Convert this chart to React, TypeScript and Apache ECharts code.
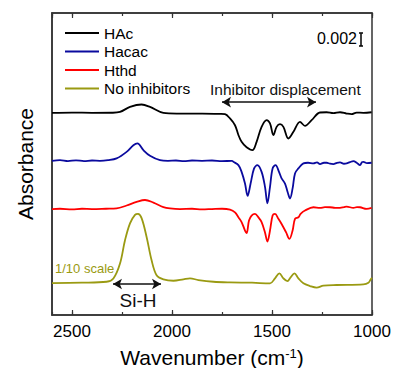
import React, { useEffect, useRef } from "react";
import * as echarts from "echarts";

// Wavenumber ticks (cm^-1)
const X_MIN = 1000;
const X_MAX = 2600;
const X_MAJOR = 500;
const X_MINOR = 250;
const Y_MAX = 46.5; // plot span in mAbs units (0.001 absorbance)

// Vertical offsets of the stacked traces (mAbs)
const offsets = { hac: 31.12, hacac: 23.74, hthd: 16.31, none: 4.92 };

// [wavenumber, absorbance change in mAbs relative to baseline]
const hacData: [number, number][] = [
  [2600, 0], [2500, 0.05], [2400, 0], [2300, 0.02], [2260, 0.15], [2210, 0.92], [2152, 1.29],
  [2110, 0.92], [2043, 0], [1977, -0.1], [1850, -0.1], [1760, -0.15], [1735, -0.2],
  [1710, -0.86], [1685, -1.9], [1668, -3.4], [1652, -4.46], [1627, -5.3], [1598, -5.74],
  [1577, -4.46], [1552, -2.15], [1527, -1.12], [1510, -1.63], [1493, -3.43], [1477, -2.15],
  [1460, -1.74], [1443, -2.15], [1418, -3.94], [1393, -2.92], [1360, -1.38], [1335, -2.0],
  [1302, -1.12], [1260, 0.06], [1227, 0.1], [1193, -0.05], [1160, 0.1], [1127, -0.1],
  [1102, -0.2], [1077, 0.05], [1043, 0], [1002, 0.1],
];

const hacacData: [number, number][] = [
  [2600, 0], [2560, 0.1], [2520, -0.05], [2480, 0.08], [2440, -0.05], [2400, 0.05], [2360, 0],
  [2320, 0.1], [2277, 0.37], [2227, 1.38], [2193, 2.4], [2173, 2.68], [2143, 1.65],
  [2110, 0.77], [2060, 0.1], [2020, 0], [1980, 0.05], [1940, -0.05], [1900, 0.05], [1850, 0],
  [1800, 0.05], [1750, -0.05], [1700, 0], [1693, -0.15], [1668, -0.66], [1652, -1.7],
  [1635, -3.5], [1622, -5.4], [1607, -3.5], [1590, -1.2], [1573, -0.66], [1552, -1.7],
  [1535, -4.0], [1523, -6.55], [1510, -4.0], [1497, -1.17], [1482, -0.66], [1465, -1.7],
  [1452, -2.7], [1435, -3.5], [1422, -4.8], [1410, -5.8], [1397, -4.25], [1385, -1.94],
  [1368, -1.17], [1343, -0.4], [1320, -0.3], [1293, -0.4], [1275, -0.25], [1260, -0.5],
  [1240, -0.3], [1227, -0.3], [1210, -0.45], [1193, -0.5], [1175, -0.3], [1160, -0.25],
  [1140, -0.45], [1127, -0.4], [1110, -0.2], [1093, -0.05], [1075, -0.35], [1060, -0.66],
  [1050, -0.2], [1043, -0.15], [1025, -0.35], [1002, -0.3],
];

const hthdData: [number, number][] = [
  [2600, 0], [2560, 0.05], [2500, -0.05], [2450, 0.05], [2400, 0], [2330, 0.05], [2277, 0.1],
  [2227, 0.55], [2177, 1.1], [2135, 1.4], [2093, 1.0], [2043, 0.3], [2010, 0.1], [1960, 0],
  [1900, 0.05], [1850, -0.05], [1800, 0], [1750, 0.05], [1710, -0.08], [1685, -0.5],
  [1668, -1.26], [1652, -2.0], [1635, -3.3], [1627, -3.7], [1615, -1.77], [1602, -1.0],
  [1585, -0.74], [1568, -1.26], [1552, -2.0], [1535, -3.6], [1523, -5.0], [1510, -3.3],
  [1497, -1.0], [1485, -0.74], [1468, -1.5], [1452, -2.3], [1430, -3.56], [1413, -4.6],
  [1397, -3.3], [1385, -1.5], [1368, -1.26], [1357, -0.74], [1335, -0.23], [1293, 0.28],
  [1260, 0.18], [1235, 0.3], [1210, 0.28], [1185, 0.2], [1160, 0.18], [1140, 0.3],
  [1127, 0.38], [1093, 0.18], [1075, 0.3], [1060, 0.28], [1027, 0.03], [1002, 0.18],
];

// "No inhibitors" trace, shown at 1/10 scale
const noneData: [number, number][] = [
  [2600, 0], [2450, 0.05], [2327, 0.2], [2293, 0.7], [2260, 3.0], [2235, 6.6], [2210, 9.2],
  [2185, 10.5], [2170, 10.65], [2152, 10.0], [2127, 7.1], [2102, 3.5], [2077, 1.2],
  [2043, 0.57], [1993, 0.35], [1943, 0.57], [1910, 0.72], [1868, 0.46], [1793, 0.2],
  [1710, 0.1], [1600, 0.05], [1510, -0.05], [1485, 0.72], [1463, 1.5], [1443, 0.72],
  [1423, 0.3], [1407, 0.87], [1388, 1.5], [1368, 0.72], [1343, -0.05], [1310, -0.46],
  [1277, -0.7], [1243, -0.4], [1177, -0.3], [1043, -0.2], [1018, 0.05], [1006, 0.57],
  [1000, 0.8],
];

const seriesNames = ["HAc", "Hacac", "Hthd", "No inhibitors"];
const seriesColors = ["#000000", "#0a0a9e", "#ff0000", "#9a9a12"];

// Annotation spans (cm^-1) and scale bar (mAbs)
const inhibitorSpan = [1750, 1280];
const inhibitorArrowY = 32.77;
const siHSpan = [2295, 2055];
const siHArrowY = 4.77;
const scaleBarX = 1055;
const scaleBarBottom = 41.4;
const scaleBar = 2; // 0.002 absorbance

const FONT = '"Liberation Sans", Arial, sans-serif';

function shift(d: [number, number][], off: number) {
  return d.map(([x, y]) => [x, +(y + off).toFixed(3)]);
}

export default function App() {
  const ref = useRef<HTMLDivElement>(null);
  useEffect(() => {
    if (!ref.current) return;
    const chart = echarts.init(ref.current, undefined, { renderer: "svg" });
    const datasets = [
      shift(hacData, offsets.hac),
      shift(hacacData, offsets.hacac),
      shift(hthdData, offsets.hthd),
      shift(noneData, offsets.none),
    ];
    const baseX = {
      type: "value",
      min: X_MIN,
      max: X_MAX,
      inverse: true,
      splitLine: { show: false },
    };
    const arrowLine = { color: "#111", width: 1.5, type: "solid" };
    const series: any[] = datasets.map((d, i) => ({
      name: seriesNames[i],
      type: "line",
      data: d,
      showSymbol: false,
      smooth: 0.35,
      lineStyle: { color: seriesColors[i], width: 1.8 },
      itemStyle: { color: seriesColors[i] },
      silent: true,
    }));
    series[0].markLine = {
      silent: true,
      symbol: ["arrow", "arrow"],
      symbolSize: [8, 9],
      label: { show: false },
      lineStyle: arrowLine,
      data: [
        [{ coord: [inhibitorSpan[0], inhibitorArrowY] }, { coord: [inhibitorSpan[1], inhibitorArrowY] }],
        [{ coord: [siHSpan[0], siHArrowY] }, { coord: [siHSpan[1], siHArrowY] }],
      ],
    };
    series.push({
      type: "line",
      data: [],
      silent: true,
      markLine: {
        silent: true,
        symbol: ["none", "none"],
        label: { show: false },
        lineStyle: { color: "#000", width: 1.5, type: "solid" },
        data: [
          [{ coord: [scaleBarX, scaleBarBottom] }, { coord: [scaleBarX, scaleBarBottom + scaleBar] }],
          [{ coord: [scaleBarX + 10, scaleBarBottom] }, { coord: [scaleBarX - 10, scaleBarBottom] }],
          [{ coord: [scaleBarX + 10, scaleBarBottom + scaleBar] }, { coord: [scaleBarX - 10, scaleBarBottom + scaleBar] }],
        ],
      },
    });

    chart.setOption({
      animation: false,
      grid: {
        left: 52, right: 21, top: 13, bottom: 53,
        outerBoundsMode: "none",
        containLabel: false,
        show: true, borderColor: "#333", borderWidth: 1.5, backgroundColor: "transparent",
      },
      legend: {
        data: seriesNames,
        orient: "vertical",
        left: 60,
        top: 20,
        icon: "rect",
        itemWidth: 34,
        itemHeight: 2,
        itemGap: 2.5,
        textStyle: { fontFamily: FONT, fontSize: 15.5, color: "#000", padding: [0, 0, 0, 0] },
      },
      xAxis: [
        {
          ...baseX,
          position: "bottom",
          interval: X_MAJOR,
          axisLine: { show: true, lineStyle: { color: "#333", width: 1.5 } },
          axisTick: { show: true, inside: true, length: 5, lineStyle: { color: "#333", width: 1.2 } },
          axisLabel: {
            show: true, showMaxLabel: false, margin: 8,
            fontFamily: FONT, fontSize: 17, color: "#000",
            formatter: (v: number) => String(v),
          },
          name: "{a|Wavenumber (cm}{s|-1}{a|)}",
          nameLocation: "middle",
          nameGap: 32,
          nameTextStyle: {
            rich: {
              a: { fontFamily: FONT, fontSize: 21, color: "#000" },
              s: { fontFamily: FONT, fontSize: 13, color: "#000", verticalAlign: "top" },
            },
          },
        },
        {
          ...baseX,
          position: "bottom",
          interval: X_MINOR,
          axisLine: { show: false },
          axisTick: { show: true, inside: true, length: 3, lineStyle: { color: "#333", width: 1.2 } },
          axisLabel: { show: false },
        },
        {
          ...baseX,
          position: "top",
          interval: X_MAJOR,
          axisLine: { show: true, lineStyle: { color: "#333", width: 1.5 } },
          axisTick: { show: true, inside: true, length: 5, lineStyle: { color: "#333", width: 1.2 } },
          axisLabel: { show: false },
        },
        {
          ...baseX,
          position: "top",
          interval: X_MINOR,
          axisLine: { show: false },
          axisTick: { show: true, inside: true, length: 3, lineStyle: { color: "#333", width: 1.2 } },
          axisLabel: { show: false },
        },
      ],
      yAxis: {
        type: "value",
        min: 0,
        max: Y_MAX,
        axisLine: { show: true, lineStyle: { color: "#333", width: 1.5 } },
        axisTick: { show: false },
        axisLabel: { show: false },
        splitLine: { show: false },
        name: "Absorbance",
        nameLocation: "middle",
        nameGap: 16,
        nameTextStyle: { fontFamily: FONT, fontSize: 21, color: "#000" },
      },
      graphic: [
        {
          type: "text", x: 210, y: 89,
          style: { text: "Inhibitor displacement", font: `15.5px ${FONT}`, fill: "#111", align: "left", verticalAlign: "middle" },
        },
        {
          type: "text", x: 138, y: 300,
          style: { text: "Si-H", font: `19px ${FONT}`, fill: "#111", align: "center", verticalAlign: "middle" },
        },
        {
          type: "text", x: 55, y: 268,
          style: { text: "1/10 scale", font: `13px ${FONT}`, fill: seriesColors[3], align: "left", verticalAlign: "middle" },
        },
        {
          type: "text", x: 357, y: 38,
          style: { text: "0.002", font: `16px ${FONT}`, fill: "#000", align: "right", verticalAlign: "middle" },
        },
      ],
      series,
    });
    return () => chart.dispose();
  }, []);
  return (
    <div
      ref={ref}
      style={{ position: "absolute", left: 0, top: 0, width: 393, height: 368 }}
    />
  );
}
